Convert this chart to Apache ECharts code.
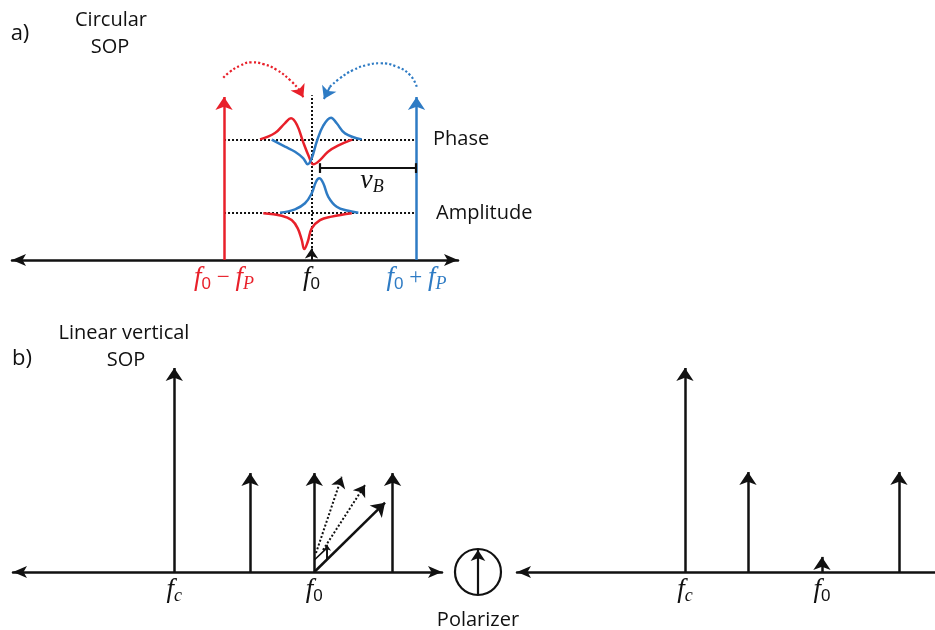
<!DOCTYPE html>
<html>
<head>
<meta charset="utf-8">
<script src="https://cdn.jsdelivr.net/npm/echarts@6/dist/echarts.min.js"></script>
<style>
  html, body { margin: 0; padding: 0; background: #ffffff; }
  #chart { width: 935px; height: 630px; }
</style>
</head>
<body>
<div id="chart"></div>
<script>
// ---------- palette ----------
const RED = '#e8202a';
const BLUE = '#2e7bc4';
const INK = '#111111';

// ---------- panel a: circular SOP (frequency in units of fP, f0 = 0) ----------
const pumpX = [-0.833, 1.0];            // f0 - fP, f0 + fP
const pumpColors = [RED, BLUE];
const pumpHeight = 1.0;
const phaseLevel = 0.740;               // baseline of the phase traces
const ampLevel = 0.287;                 // baseline of the amplitude traces
const guideTop = 1.01;                  // top of the dotted f0 guide
const f0MarkHeight = 0.07;

const redPhase = [[-0.490, 0.740], [-0.348, 0.779], [-0.252, 0.840], [-0.195, 0.869],
  [-0.138, 0.828], [-0.081, 0.726], [-0.024, 0.634], [0.017, 0.587], [0.081, 0.613],
  [0.157, 0.664], [0.252, 0.701], [0.386, 0.738]];
const bluePhase = [[-0.379, 0.738], [-0.252, 0.695], [-0.157, 0.664], [-0.078, 0.624],
  [-0.036, 0.587], [0.002, 0.624], [0.050, 0.726], [0.112, 0.824], [0.186, 0.873],
  [0.240, 0.839], [0.319, 0.777], [0.478, 0.740]];
const blueAmp = [[-0.300, 0.290], [-0.157, 0.311], [-0.062, 0.348], [0.002, 0.409],
  [0.043, 0.480], [0.074, 0.501], [0.112, 0.471], [0.160, 0.388], [0.240, 0.327],
  [0.350, 0.302], [0.446, 0.290]];
const redAmp = [[-0.459, 0.287], [-0.284, 0.272], [-0.189, 0.245], [-0.131, 0.194],
  [-0.093, 0.123], [-0.069, 0.067], [-0.036, 0.112], [0.002, 0.194], [0.081, 0.245],
  [0.192, 0.266], [0.383, 0.287]];

// transfer arcs from the pumps towards f0
const redArc = [[-0.840, 1.118], [-0.776, 1.155], [-0.681, 1.192], [-0.570, 1.213],
  [-0.459, 1.202], [-0.331, 1.166], [-0.205, 1.104], [-0.116, 1.043]];
const redArcTip = [[-0.116, 1.043], [-0.078, 0.998]];
const blueArc = [[1.002, 1.063], [0.938, 1.135], [0.811, 1.186], [0.652, 1.207],
  [0.526, 1.196], [0.398, 1.166], [0.271, 1.115], [0.176, 1.063]];
const blueArcTip = [[0.176, 1.063], [0.118, 0.988]];

// Brillouin shift bracket
const nuB = { from: 0.081, to: 0.995, y: 0.564, cap: 0.03, labelX: 0.576, labelY: 0.485 };

const labelsA = ['{f|f}{s|0}{o| \u2212 }{f|f}{p|P}', '{f|f}{s|0}', '{f|f}{s|0}{o| + }{f|f}{p|P}'];
const labelsAX = [-0.833, 0.0, 1.0];
const labelsAColor = [RED, INK, BLUE];

// ---------- panel b: linear vertical SOP (fc = 0, f0 = 1) ----------
const inputX = [0, 0.541, 1.0, 1.559];
const inputH = [1.0, 0.485, 0.485, 0.485];
const rotatedSolid = [[1.0, 0.0], [1.505, 0.340]];
const rotatedDotted = [
  [[1.012, 0.093], [1.196, 0.467]],
  [[1.062, 0.108], [1.362, 0.426]]
];
const smallRhomb = [[1.0, 0.059], [1.091, 0.118], [1.091, 0.059]];
const polarizerX = 2.169;
const polarizerArrow = [-0.113, 0.108];

const outputX = [0, 0.460, 1.0, 1.562];
const outputH = [1.0, 0.49, 0.074, 0.49];

const labelsB = ['{f|f}{p|c}', '{f|f}{s|0}'];
const labelsBX = [0, 1.0];

// ---------- helpers ----------
function mathRich(color, fSize) {
  return {
    f: { fontFamily: 'Liberation Serif', fontStyle: 'italic', fontSize: fSize || 27, lineHeight: 30, color: color, opacity: 1 },
    s: { fontFamily: 'Liberation Sans', fontSize: 17, lineHeight: 17, verticalAlign: 'bottom', color: color, opacity: 1 },
    p: { fontFamily: 'Liberation Serif', fontStyle: 'italic', fontSize: 18, lineHeight: 17, verticalAlign: 'bottom', color: color, opacity: 1 },
    o: { fontFamily: 'Liberation Serif', fontSize: 23, lineHeight: 30, color: color, opacity: 1 }
  };
}

function arrowLines(idx, segs, color, opts) {
  opts = opts || {};
  return {
    type: 'lines', coordinateSystem: 'cartesian2d',
    xAxisIndex: idx, yAxisIndex: idx, clip: false, silent: true,
    symbol: opts.symbol || ['none', 'arrow'],
    symbolSize: opts.size || [8, 13],
    lineStyle: { color: color, width: opts.width || 2.5, type: opts.type || 'solid', opacity: 1 },
    data: segs.map(c => ({ coords: c })),
    z: opts.z || 3
  };
}

function curve(data, color, opts) {
  opts = opts || {};
  return {
    type: 'line', xAxisIndex: opts.idx || 0, yAxisIndex: opts.idx || 0,
    data: data, smooth: opts.smooth == null ? 0.4 : opts.smooth,
    showSymbol: false, silent: true, clip: false,
    lineStyle: { color: color, width: opts.width || 2.5, type: opts.type || 'solid' },
    z: opts.z || 4
  };
}

function tickLabels(idx, xs, texts, colors) {
  return {
    type: 'scatter', xAxisIndex: idx, yAxisIndex: idx, symbolSize: 0, silent: true, clip: false,
    itemStyle: { opacity: 1 },
    data: xs.map((x, i) => ({
      value: [x, 0],
      label: {
        show: true, position: 'bottom', distance: 3, opacity: 1,
        formatter: texts[i], color: colors[i], rich: mathRich(colors[i])
      }
    })),
    z: 6
  };
}

function hiddenY(max) {
  return { type: 'value', min: 0, max: max, show: false };
}

function arrowAxis(min, max) {
  return {
    type: 'value', min: min, max: max,
    axisLine: {
      show: true, onZero: true,
      symbol: ['arrow', 'arrow'], symbolSize: [9, 14],
      lineStyle: { color: INK, width: 2.5 }
    },
    axisTick: { show: false }, axisLabel: { show: false }, splitLine: { show: false }
  };
}

const chart = echarts.init(document.getElementById('chart'), null, { renderer: 'canvas' });

const series = [
  // ----- panel a -----
  arrowLines(0, [
    [[pumpX[0], phaseLevel], [pumpX[1], phaseLevel]],
    [[pumpX[0], ampLevel], [pumpX[1], ampLevel]],
    [[0, 0], [0, guideTop]]
  ], INK, { symbol: ['none', 'none'], width: 2, type: 'dotted', z: 2 }),
  arrowLines(0, [[[pumpX[0], 0], [pumpX[0], pumpHeight]]], pumpColors[0], { size: [8, 13] }),
  arrowLines(0, [[[pumpX[1], 0], [pumpX[1], pumpHeight]]], pumpColors[1], { size: [8, 13] }),
  arrowLines(0, [[[0, 0], [0, f0MarkHeight]]], INK, { size: [7, 10], width: 2 }),
  curve(redPhase, RED),
  curve(bluePhase, BLUE),
  curve(blueAmp, BLUE),
  curve(redAmp, RED),
  curve(redArc, RED, { type: 'dotted', width: 2.2, smooth: 0.5 }),
  curve(blueArc, BLUE, { type: 'dotted', width: 2.2, smooth: 0.5 }),
  arrowLines(0, [redArcTip], RED, { size: [9, 12], width: 2 }),
  arrowLines(0, [blueArcTip], BLUE, { size: [9, 12], width: 2 }),
  arrowLines(0, [
    [[nuB.from, nuB.y], [nuB.to, nuB.y]],
    [[nuB.from, nuB.y - nuB.cap], [nuB.from, nuB.y + nuB.cap]],
    [[nuB.to, nuB.y - nuB.cap], [nuB.to, nuB.y + nuB.cap]]
  ], INK, { symbol: ['none', 'none'], width: 2.2 }),
  {
    type: 'scatter', xAxisIndex: 0, yAxisIndex: 0, symbolSize: 0, silent: true,
    itemStyle: { opacity: 1 },
    data: [{
      value: [nuB.labelX, nuB.labelY],
      label: { show: true, position: 'inside', formatter: '{f|v}{p|B}', color: INK, opacity: 1,
        rich: mathRich(INK, 28) }
    }]
  },
  tickLabels(0, labelsAX, labelsA, labelsAColor),

  // ----- panel b, before the polarizer -----
  arrowLines(1, inputX.map((x, i) => [[x, 0], [x, inputH[i]]]), INK, { size: [8, 13] }),
  arrowLines(1, [rotatedSolid], INK, { size: [8, 13] }),
  arrowLines(1, rotatedDotted, INK, { size: [7, 11], width: 2, type: 'dotted' }),
  curve(smallRhomb, INK, { idx: 1, smooth: false, width: 1.6, type: 'solid' }),
  arrowLines(1, [[[smallRhomb[2][0], smallRhomb[2][1]], [smallRhomb[1][0], smallRhomb[1][1] + 0.015]]], INK,
    { size: [4, 6], width: 1.6 }),
  {
    type: 'scatter', xAxisIndex: 1, yAxisIndex: 1, silent: true, clip: false,
    symbol: 'circle', symbolSize: 46,
    itemStyle: { color: 'rgba(0,0,0,0)', borderColor: INK, borderWidth: 2.2, opacity: 1 },
    data: [{
      value: [polarizerX, 0],
      label: { show: true, position: 'bottom', distance: 14, formatter: 'Polarizer', opacity: 1,
        fontFamily: 'Open Sans', fontSize: 20, color: INK }
    }],
    z: 5
  },
  arrowLines(1, [[[polarizerX, polarizerArrow[0]], [polarizerX, polarizerArrow[1]]]], INK,
    { size: [7, 11], width: 2.2 }),
  tickLabels(1, labelsBX, labelsB, [INK, INK]),

  // ----- panel b, after the polarizer -----
  arrowLines(2, outputX.map((x, i) => [[x, 0], [x, outputH[i]]]), INK, { size: [8, 13] }),
  tickLabels(2, labelsBX, labelsB, [INK, INK])
];

const textStyle = (t, x, y, size, align) => ({
  type: 'text', x: x, y: y, silent: true,
  style: { text: t, fontFamily: 'Open Sans', fontSize: size, fill: INK,
    align: align || 'center', verticalAlign: 'middle' }
});

chart.setOption({
  animation: false,
  backgroundColor: '#ffffff',
  grid: [
    { left: 12, width: 446, top: 48.1, height: 211.9, outerBoundsMode: 'none' },
    { left: 13, width: 429, top: 327.2, height: 244.8, outerBoundsMode: 'none' },
    { left: 517, width: 458, top: 327.2, height: 244.8, outerBoundsMode: 'none' }
  ],
  xAxis: [
    arrowAxis(-2.852, 1.395),
    Object.assign(arrowAxis(-1.152, 1.912), { gridIndex: 1 }),
    Object.assign(arrowAxis(-1.226, 2.117), { gridIndex: 2 })
  ],
  yAxis: [
    hiddenY(1.3),
    Object.assign(hiddenY(1.2), { gridIndex: 1 }),
    Object.assign(hiddenY(1.2), { gridIndex: 2 })
  ],
  graphic: [
    textStyle('a)', 20, 34, 22),
    textStyle('Circular', 111, 20, 20),
    textStyle('SOP', 110, 47, 20),
    textStyle('Phase', 433, 139, 20, 'left'),
    textStyle('Amplitude', 436, 213, 20, 'left'),
    textStyle('b)', 22, 359, 22),
    textStyle('Linear vertical', 124, 333, 20),
    textStyle('SOP', 126, 360, 20)
  ],
  series: series
});
</script>
</body>
</html>
